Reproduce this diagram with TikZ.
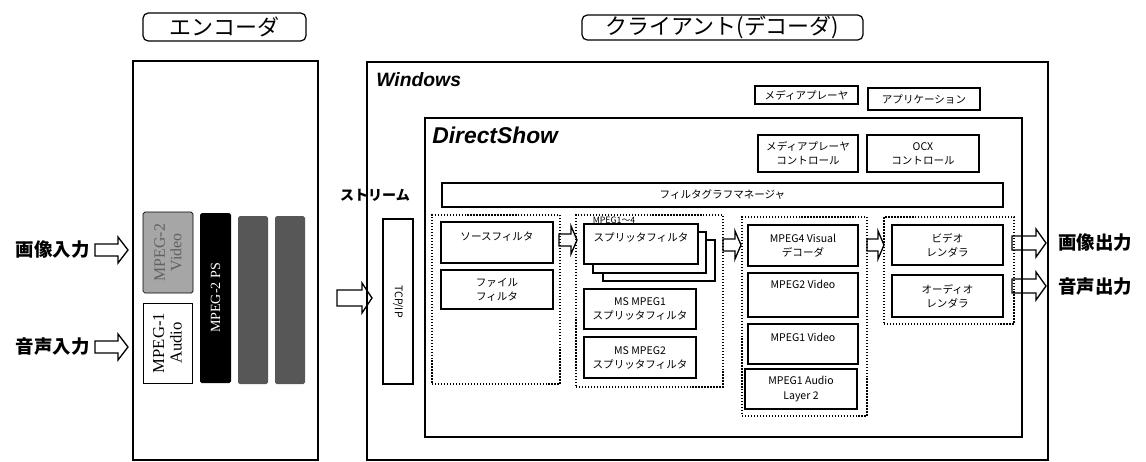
\documentclass[tikz,border=0pt]{standalone}
\usepackage{fontspec}
\setmainfont{Liberation Serif}
\setsansfont{Liberation Sans}
\newfontfamily\jp{Noto Sans CJK JP}
\usepackage{xcolor}
\usepackage{tikz}
\definecolor{lightdot}{HTML}{A6A6A6}
\definecolor{darkbar}{HTML}{575757}

\tikzset{
  px/.style 2 args={minimum width=#1*0.02cm, minimum height=#2*0.02cm},
  box/.style={draw, line width=0.75pt, fill=white, inner sep=1pt, align=center,
              font=\jp\fontsize{6}{8}\selectfont},
  liftup/.style={text depth=#1},
  group/.style={draw, densely dotted, line width=0.7pt, inner sep=0pt},
  frame/.style={draw, line width=0.9pt, inner sep=0pt},
  tag/.style={draw, rounded corners=3pt, line width=0.7pt, inner sep=0pt,
              font=\jp\fontsize{12.5}{14}\selectfont},
  heading/.style={inner sep=0pt, anchor=west, font=\sffamily\bfseries\itshape},
  iolabel/.style={inner sep=0pt, font=\jp\bfseries\fontsize{10.5}{12}\selectfont},
  arrowbody/.style={draw, line width=0.75pt},
}
% tail x, tip x, y, shaft half, head half, head length
\newcommand\bigarrow[6]{%
  \draw[arrowbody] (#1,#3-#4) -- (#2-#6,#3-#4) -- (#2-#6,#3-#5) -- (#2,#3)
    -- (#2-#6,#3+#5) -- (#2-#6,#3+#4) -- (#1,#3+#4) -- cycle;}

\begin{document}
\begin{tikzpicture}[x=0.02cm, y=-0.02cm]
  \useasboundingbox (0,0) rectangle (1146,461);

  % titles
  \node[tag, px={163}{28}] (enctag) at (224.5,27) {エンコーダ};
  \node[tag, px={281}{25}] (clitag) at (722.5,27.5) {クライアント(デコーダ)};

  % encoder side
  \node[frame, px={185}{399}] (enc) at (225.5,260.5) {};
  \node[draw, fill=lightdot, rounded corners=1pt, rotate=90, px={81}{50}, inner sep=0pt,
        align=center, text=gray!75!black, font=\rmfamily\fontsize{9}{9.5}\selectfont]
        (mp2venc) at (168,252.5) {MPEG-2\\Video};
  \node[draw, fill=white, rotate=90, px={80}{49}, inner sep=0pt, align=center,
        font=\rmfamily\fontsize{9.5}{10}\selectfont] (mp1aenc) at (167.5,343) {MPEG-1\\Audio};
  \node[fill=black, rounded corners=1pt, rotate=90, px={170}{31}, inner sep=0pt,
        text=white, font=\rmfamily\fontsize{8}{9}\selectfont] (psenc) at (215.5,298) {MPEG-2 PS};
  \node[fill=darkbar, rounded corners=1pt, px={30}{168}] (bar1) at (253,300) {};
  \node[fill=darkbar, rounded corners=1pt, px={30}{168}] (bar2) at (290,300) {};

  \node[iolabel, anchor=east] (vin) at (90,250) {画像入力};
  \node[iolabel, anchor=east] (ain) at (90,347) {音声入力};
  \bigarrow{95}{128}{250}{6}{13}{10}
  \bigarrow{95}{128}{347}{6}{13}{10}

  % client side
  \node[frame, px={681}{398}] (win) at (707.5,261) {};
  \node[heading, font=\sffamily\bfseries\itshape\fontsize{11}{12}\selectfont] (winlbl) at (376,80) {Windows};
  \node[box, px={103}{18}] (mpbox) at (806.5,95) {メディアプレーヤ};
  \node[box, px={112}{22}] (appbox) at (924,99) {アプリケーション};

  \node[frame, px={597}{319}] (dshow) at (723.5,277.5) {};
  \node[heading, font=\sffamily\bfseries\itshape\fontsize{13}{14}\selectfont] (dslbl) at (432,135) {DirectShow};
  \node[box, px={100}{37}] (mpctrl) at (808,153.5) {メディアプレーヤ\\コントロール};
  \node[box, px={112}{37}] (ocx) at (923,153.5) {OCX\\コントロール};
  \node[box, px={561}{24}] (fgm) at (722.5,195) {フィルタグラフマネージャ};

  \node[iolabel, font=\jp\bfseries\fontsize{8}{9}\selectfont] (strlbl) at (375,195) {ストリーム};
  \node[box, rotate=-90, px={165}{30}] (tcp) at (398,301.5) {TCP/IP};
  \bigarrow{337}{372}{298}{8}{15}{10}

  % source filters
  \node[group, px={128}{169}] (grp1) at (496,299.5) {};
  \node[box, px={112}{41}, liftup=7pt] (src) at (497,242.5) {ソースフィルタ};
  \node[box, px={112}{39}] (fileflt) at (497,289.5) {ファイル\\フィルタ};

  % splitters
  \node[group, px={147}{172}] (grp2) at (649.5,301) {};
  \node[inner sep=0pt, font=\jp\fontsize{5}{5}\selectfont] (mpglbl) at (614,220) {MPEG1～4};
  \node[box, px={112}{41}] (split3) at (659,260.5) {};
  \node[box, px={113}{41}] (split2) at (649.5,252.5) {};
  \node[box, px={114}{40}, liftup=7.5pt] (split1) at (641,244) {スプリッタフィルタ};
  \node[box, px={112}{40}] (ms1) at (640,309) {MS MPEG1\\スプリッタフィルタ};
  \node[box, px={112}{41}] (ms2) at (640,357.5) {MS MPEG2\\スプリッタフィルタ};

  % decoders
  \node[group, px={125}{199}] (grp3) at (804.5,316.5) {};
  \node[box, px={110}{41}] (mp4v) at (803,245.5) {MPEG4 Visual\\デコーダ};
  \node[box, px={110}{44}, liftup=12pt] (mp2v) at (803,295) {MPEG2 Video};
  \node[box, px={110}{40}, liftup=7.5pt] (mp1v) at (803,344) {MPEG1 Video};
  \node[box, px={112}{40}] (mp1a) at (801,389) {MPEG1 Audio\\Layer 2};

  % renderers
  \node[group, px={130}{107}] (grp4) at (949,270.5) {};
  \node[box, px={111}{40}] (vrend) at (947.5,245) {ビデオ\\レンダラ};
  \node[box, px={111}{42}] (arend) at (947.5,296) {オーディオ\\レンダラ};

  \bigarrow{559}{577}{240}{6}{14}{6}
  \bigarrow{723}{741}{245}{6}{14}{6}
  \bigarrow{867}{884}{245}{6}{14}{6}
  \bigarrow{1012}{1046}{243}{7}{14}{10}
  \bigarrow{1012}{1046}{286}{7}{14}{10}

  \node[iolabel, anchor=west] (vout) at (1058,243) {画像出力};
  \node[iolabel, anchor=west] (aout) at (1058,287) {音声出力};
\end{tikzpicture}
\end{document}
